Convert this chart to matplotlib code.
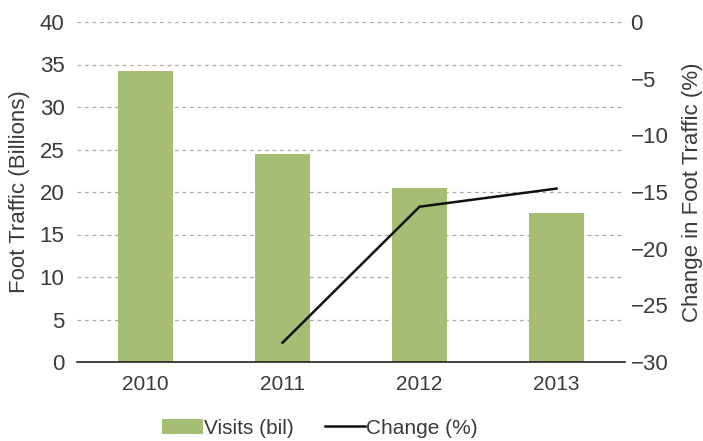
import matplotlib
matplotlib.use("Agg")
import matplotlib.pyplot as plt
from matplotlib.patches import Patch
from matplotlib.lines import Line2D

years = ["2010", "2011", "2012", "2013"]
visits = [34.2, 24.5, 20.5, 17.5]
change_years = ["2011", "2012", "2013"]
change = [-28.3, -16.3, -14.7]
left_ticks = [0, 5, 10, 15, 20, 25, 30, 35, 40]
right_ticks = [-30, -25, -20, -15, -10, -5, 0]

plt.rcParams['font.family'] = ['Liberation Sans', 'DejaVu Sans']
txt = '#3a3a3a'
green = '#a4bf74'

fig = plt.figure(figsize=(7.03, 4.41), dpi=100)
ax = fig.add_axes([77/703, 1-362/441, (625-77)/703, (362-22)/441])
x = list(range(len(years)))
ax.bar(x, visits, width=0.4, color=green, zorder=2)
ax.set_xlim(-0.5, 3.5)
ax.set_ylim(0, 40)
ax.set_yticks(left_ticks)
ax.set_xticks(x)
ax.set_xticklabels(years)
ax.grid(axis='y', linestyle=(0, (3, 3)), color='#aaaaaa', linewidth=0.9, zorder=0)
for s in ['top', 'left', 'right']:
    ax.spines[s].set_visible(False)
ax.spines['bottom'].set_color('#222222')
ax.spines['bottom'].set_linewidth(1.2)
ax.tick_params(axis='y', length=0, pad=9, labelsize=16, labelcolor=txt)
ax.tick_params(axis='x', length=0, pad=9, labelsize=15, labelcolor=txt)
ax.set_ylabel("Foot Traffic (Billions)", fontsize=16, color=txt, labelpad=7)

ax2 = ax.twinx()
xi = [years.index(y) for y in change_years]
ax2.plot(xi, change, color='#111111', linewidth=1.8, zorder=3)
ax2.set_ylim(-30, 0)
ax2.set_yticks(right_ticks)
ax2.set_yticklabels([("\u2212%d" % -t) if t < 0 else str(t) for t in right_ticks])
for s in ['top', 'left', 'right', 'bottom']:
    ax2.spines[s].set_visible(False)
ax2.tick_params(axis='y', length=0, pad=4, labelsize=16, labelcolor=txt)
ax2.set_ylabel("Change in Foot Traffic (%)", fontsize=16, color=txt, labelpad=10)

handles = [Patch(facecolor=green, edgecolor='none'), Line2D([0], [0], color='#111111', linewidth=1.8)]
fig.legend(handles, ["Visits (bil)", "Change (%)"], loc='center', bbox_to_anchor=(320/703, 1-428/441),
           ncol=2, frameon=False, fontsize=15, handlelength=1.95, handletextpad=0.05,
           columnspacing=1.5, labelcolor=txt, borderpad=0)

fig.savefig("out.png", dpi=100)
